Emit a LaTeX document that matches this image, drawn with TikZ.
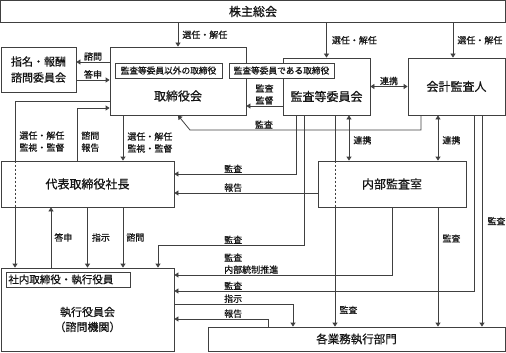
\documentclass[tikz,border=0pt]{standalone}
\usepackage{fontspec}
\setmainfont{Noto Sans CJK JP}[FakeBold=0.7]
\usetikzlibrary{arrows.meta, positioning, calc}
\definecolor{cLine}{RGB}{64,64,64}
\definecolor{cText}{RGB}{20,20,20}
\tikzset{
  orgbox/.style={rectangle, draw=cLine, line width=0.8pt, inner sep=0pt,
                 text=cText, font=\fontsize{12}{15}\selectfont, align=center},
  subbox/.style={rectangle, draw=cLine, fill=white, line width=0.8pt,
                 inner sep=0pt, minimum height=15pt, text=cText,
                 font=\fontsize{8.7}{10}\selectfont},
  boxtitle/.style={text=cText, font=\fontsize{12}{15}\selectfont,
                   align=center, inner sep=0pt},
  lbl/.style={text=cText, font=\fontsize{9}{12}\selectfont, align=left,
              inner sep=1pt},
  conn/.style={draw=cLine, line width=0.8pt},
  arr/.style={conn, -{Triangle[length=4pt, width=5pt]}},
  darr/.style={conn, {Triangle[length=4pt, width=5pt]}-{Triangle[length=4pt, width=5pt]}},
  hidden/.style={conn, dash pattern=on 2pt off 2pt},
}

\begin{document}
\begin{tikzpicture}[x=1pt, y=-1pt]
\useasboundingbox (0,0) rectangle (506,353);

%% ============================================================
%%  LANES (x of the vertical connectors)
%% ============================================================
\def\xSen{15}    % 取締役会 -> 執行役員会
\def\xTou{51}    % 答申
\def\xHou{77}    % 諮問・報告
\def\xKan{123}   % 選任・監督 / 諮問
\def\xKs{158}    % 監査 -> 執行役員会
\def\xHk{268}    % 報告
\def\xSj{293}    % 指示
\def\xKa{296}    % 監査 -> 代表
\def\xKb{304}    % 監査 -> 執行役員会
\def\xKc{335}    % 監査 -> 各業務
\def\xRa{349}    % 連携
\def\xKd{421}    % 監査 -> 取締役会
\def\xRb{438}    % 連携 / 監査
\def\xSk{453}    % 選任・解任
\def\xKe{474}    % 監査 -> 執行役員会
\def\xKf{482}    % 監査 -> 各業務
\def\xLbl{223}   % label column

%% ============================================================
%%  BOXES
%% ============================================================
\node[orgbox, minimum width=505pt, minimum height=22pt] (soukai) at (253,11.5) {株主総会};
\node[orgbox, minimum width=75pt, minimum height=45pt,
      font=\fontsize{11}{16}\selectfont] (shimei) at (38.5,69.5) {指名・報酬\\諮問委員会};
\node[orgbox, minimum width=136pt, minimum height=68pt] (torishimari) at (178,81) {};
\node[orgbox, minimum width=87pt, minimum height=57pt] (kansa) at (326.5,86.5) {};
\node[orgbox, minimum width=97pt, minimum height=57pt] (kaikei) at (456.5,86.5) {会計監査人};
\node[orgbox, minimum width=173pt, minimum height=46pt] (daihyo) at (87.5,184) {代表取締役社長};
\node[orgbox, minimum width=148pt, minimum height=46pt] (naibu) at (392,184) {内部監査室};
\node[orgbox, minimum width=173pt, minimum height=83pt] (shikko) at (87.5,309.5) {};
\node[orgbox, minimum width=297pt, minimum height=24pt,
      font=\fontsize{11.5}{14}\selectfont] (gyomu) at (356.5,339) {各業務執行部門};

%% ----- titles and member boxes -----
\node[boxtitle] (torishimariT) at ($(torishimari.center)+(0,15)$) {取締役会};
\node[boxtitle] (kansaT) at ($(kansa.center)+(0,10)$) {監査等委員会};
\node[boxtitle, font=\fontsize{11}{15}\selectfont] (shikkoT)
  at ($(shikko.center)+(0,10)$) {執行役員会\\（諮問機関）};
\node[subbox, minimum width=107pt] (membA) at (168.5,70.5) {監査等委員以外の取締役};
\node[subbox, minimum width=105pt] (membB) at (281.5,70.5) {監査等委員である取締役};
\node[subbox, anchor=west, text width=120pt, inner xsep=2pt, align=left,
      font=\fontsize{10.5}{12}\selectfont] (membC) at (6,279.5) {社内取締役・執行役員};

%% ============================================================
%%  SHAREHOLDERS' MEETING
%% ============================================================
\draw[arr] (soukai.south -| torishimari.north) -- (torishimari.north)
  node[lbl, midway, right, xshift=3pt] {選任・解任};
\draw[arr] (soukai.south -| kansa.north) -- (kansa.north)
  node[lbl, midway, right, xshift=4pt] {選任・解任};
\draw[arr] (soukai.south -| \xSk,0) -- (kaikei.north -| \xSk,0)
  node[lbl, midway, right, xshift=3pt] {選任・解任};

%% ============================================================
%%  BOARD LEVEL
%% ============================================================
\draw[arr] (torishimari.west |- 0,62) -- (shimei.east |- 0,62)
  node[lbl, midway, above] {諮問};
\draw[arr] (shimei.east |- 0,80) -- (torishimari.west |- 0,80)
  node[lbl, midway, above] {答申};
\draw[darr] (kansa.east) -- (kaikei.west)
  node[lbl, midway, above] {連携};
\draw[arr] (kansa.west |- 0,106) -- (torishimari.east |- 0,106)
  node[lbl, midway, above, align=center] {監査\\監督};
\draw[arr] (kaikei.south -| \xKd,0) |- node[lbl, above, pos=0.84] {監査} (190,130)
  -- (torishimari.south);
\draw[darr] (kansa.south -| \xRa,0) -- (naibu.north -| \xRa,0)
  node[lbl, pos=0.55, right, xshift=3pt] {連携};
\draw[darr] (kaikei.south -| \xRb,0) -- (naibu.north -| \xRb,0)
  node[lbl, pos=0.55, right, xshift=3pt] {連携};

%% ============================================================
%%  BOARD -> PRESIDENT / EXECUTIVE COMMITTEE
%% ============================================================
\draw[arr] (torishimari.south -| \xKan,0) -- (daihyo.north -| \xKan,0)
  node[lbl, pos=0.6, right, xshift=3pt] {選任・解任\\監視・監督};
\draw[arr] (daihyo.north -| \xHou,0) |- node[lbl, pos=0.18, right, xshift=3pt] {諮問\\報告}
  (torishimari.west |- 0,108);
\draw[conn] (torishimari.west |- 0,101) -| node[lbl, pos=0.84, right, xshift=3pt] {選任・解任\\監視・監督}
  (daihyo.north -| \xSen,0);
\draw[hidden] (daihyo.north -| \xSen,0) -- (daihyo.south -| \xSen,0);
\draw[arr] (daihyo.south -| \xSen,0) -- (shikko.north -| \xSen,0);

%% president <-> executive committee
\draw[arr] (shikko.north -| \xTou,0) -- (daihyo.south -| \xTou,0)
  node[lbl, midway, right, xshift=2pt] {答申};
\draw[arr] (daihyo.south) -- (shikko.north)
  node[lbl, midway, right, xshift=3pt] {指示};
\draw[arr] (daihyo.south -| \xKan,0) -- (shikko.north -| \xKan,0)
  node[lbl, midway, right, xshift=2pt] {諮問};

%% ============================================================
%%  AUDIT LINES
%% ============================================================
\draw[arr] (kansa.south -| \xKa,0) |- (daihyo.east |- 0,174);
\draw[arr] (naibu.west |- 0,193) -- (daihyo.east |- 0,193);
\draw[arr] (kansa.south -| \xKb,0) |- (\xKs,245) -- (shikko.north -| \xKs,0);
\draw[conn] (kansa.south -| \xKc,0) -- (naibu.north -| \xKc,0);
\draw[hidden] (naibu.north -| \xKc,0) -- (naibu.south -| \xKc,0);
\draw[arr] (naibu.south -| \xKc,0) -- (gyomu.north -| \xKc,0)
  node[lbl, pos=0.86, right, xshift=3pt] {監査};
\draw[arr] (naibu.south) |- (shikko.east |- 0,275);
\draw[arr] (kaikei.south -| \xKe,0) |- (shikko.east |- 0,291);
\draw[arr] (naibu.south -| \xRb,0) -- (gyomu.north -| \xRb,0)
  node[lbl, pos=0.26, right, xshift=3pt] {監査};
\draw[arr] (kaikei.south -| \xKf,0) -- (gyomu.north -| \xKf,0)
  node[lbl, midway, right, xshift=4pt] {監査};

%% executive committee <-> departments
\draw[arr] (shikko.east |- 0,304) -| (gyomu.north -| \xSj,0);
\draw[arr] (gyomu.north -| \xHk,0) |- (shikko.east |- 0,319);

%% ----- label column right of 代表 / 執行役員会 -----
\node[lbl, anchor=south west] (lblKa) at (\xLbl,174) {監査};
\node[lbl, anchor=south west] (lblHa) at (\xLbl,193) {報告};
\node[lbl, anchor=south west] (lblKb) at (\xLbl,245) {監査};
\node[lbl, anchor=south west] (lblNt) at (\xLbl,275) {監査\\内部統制推進};
\node[lbl, anchor=south west] (lblKe) at (\xLbl,291) {監査};
\node[lbl, anchor=south west] (lblSj) at (\xLbl,304) {指示};
\node[lbl, anchor=south west] (lblHk) at (\xLbl,319) {報告};

\end{tikzpicture}
\end{document}
